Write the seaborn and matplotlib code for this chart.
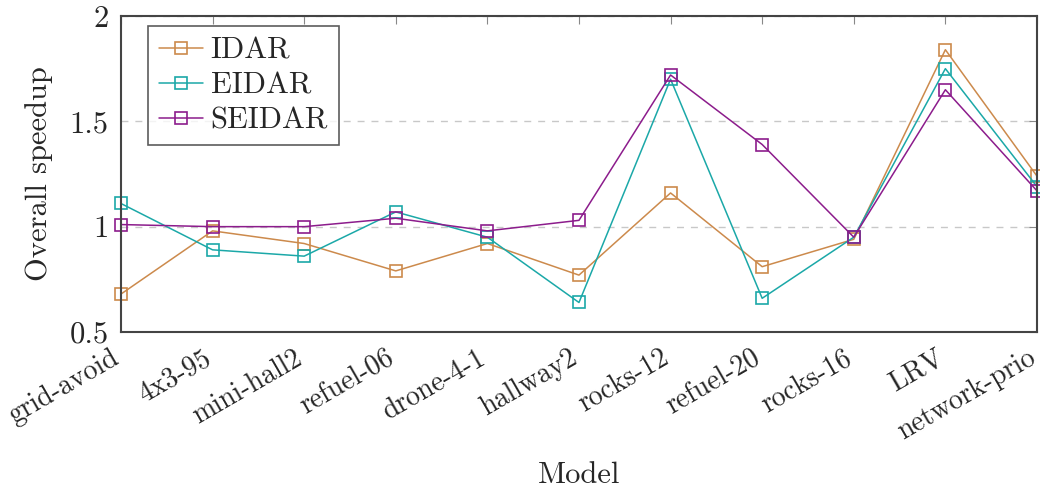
import numpy as np
import pandas as pd
import matplotlib
matplotlib.use("Agg")
import matplotlib.pyplot as plt
import matplotlib.transforms as mtransforms
import seaborn as sns

# chart data
models = ["grid-avoid", "4x3-95", "mini-hall2", "refuel-06", "drone-4-1", "hallway2",
          "rocks-12", "refuel-20", "rocks-16", "LRV", "network-prio"]
idar = [0.68, 0.98, 0.92, 0.79, 0.92, 0.77, 1.16, 0.81, 0.94, 1.84, 1.24]
eidar = [1.11, 0.89, 0.86, 1.07, 0.95, 0.64, 1.70, 0.66, 0.95, 1.75, 1.19]
seidar = [1.01, 1.00, 1.00, 1.04, 0.98, 1.03, 1.72, 1.39, 0.95, 1.65, 1.17]
methods = ["IDAR", "EIDAR", "SEIDAR"]
y_ticks = [0.5, 1.0, 1.5, 2.0]
y_tick_labels = ["0.5", "1", "1.5", "2"]

df = pd.DataFrame({
    "Model": models * 3,
    "Speedup": idar + eidar + seidar,
    "Method": [m for m in methods for _ in models],
})

sns.set_theme(style="white")
plt.rcParams["font.family"] = ["cmr10", "DejaVu Serif"]
plt.rcParams["axes.formatter.use_mathtext"] = True
plt.rcParams["mathtext.fontset"] = "cm"

palette = {"IDAR": "#cc8a4c", "EIDAR": "#1ba8a8", "SEIDAR": "#8c1c8c"}
fs = 22

fig = plt.figure(figsize=(10.4, 4.88), dpi=100)
ax = fig.add_axes([0.1163, 0.3197, 0.8808, 0.6475])

sns.lineplot(data=df, x="Model", y="Speedup", hue="Method", style="Method",
             markers=["s", "s", "s"], dashes=False, palette=palette, ax=ax,
             linewidth=1.1, markersize=9, sort=False)

# open square markers in the line colour
for line in ax.lines:
    line.set_markerfacecolor("none")
    line.set_markeredgecolor(line.get_color())
    line.set_markeredgewidth(1.2)
    line.set_clip_on(False)

ax.set_xlim(0, len(models) - 1)
ax.set_ylim(0.5, 2.0)
ax.set_yticks(y_ticks)
ax.set_yticklabels(y_tick_labels, fontsize=fs)
ax.set_xticks(range(len(models)))
ax.set_xticklabels(models, rotation=30, ha="right", va="baseline",
                   rotation_mode="anchor", fontsize=20)
shift = mtransforms.ScaledTranslation(-5 / 100, 0, fig.dpi_scale_trans)
for lab in ax.get_xticklabels():
    lab.set_transform(lab.get_transform() + shift)

ax.set_xlabel("Model", fontsize=fs, va="center")
ax.xaxis.set_label_coords(0.5, -0.4525)
ax.set_ylabel("Overall speedup", fontsize=fs, labelpad=12)

ax.yaxis.grid(True, linestyle=(0, (5, 5)), color="#c8c8c8", linewidth=1.0)
ax.set_axisbelow(True)
ax.tick_params(axis="both", direction="in", length=6, width=0.8, color="#888888",
               top=True, right=True)
ax.tick_params(axis="x", pad=22)
ax.tick_params(axis="y", pad=9)
for sp in ax.spines.values():
    sp.set_color("#444444")
    sp.set_linewidth(1.5)

handles, labels = ax.get_legend_handles_labels()
for h in handles:
    h.set_markerfacecolor("none")
    h.set_markeredgecolor(h.get_color())
    h.set_markeredgewidth(1.2)
leg = ax.legend(handles, labels, loc="upper left", bbox_to_anchor=(0.0295, 0.968),
                fontsize=fs, frameon=True, fancybox=False, edgecolor="#333333",
                handlelength=1.45, borderpad=0.35, labelspacing=0.25,
                handletextpad=0.25, borderaxespad=0)
leg.get_frame().set_linewidth(1.2)

fig.savefig("out.png", dpi=100)
